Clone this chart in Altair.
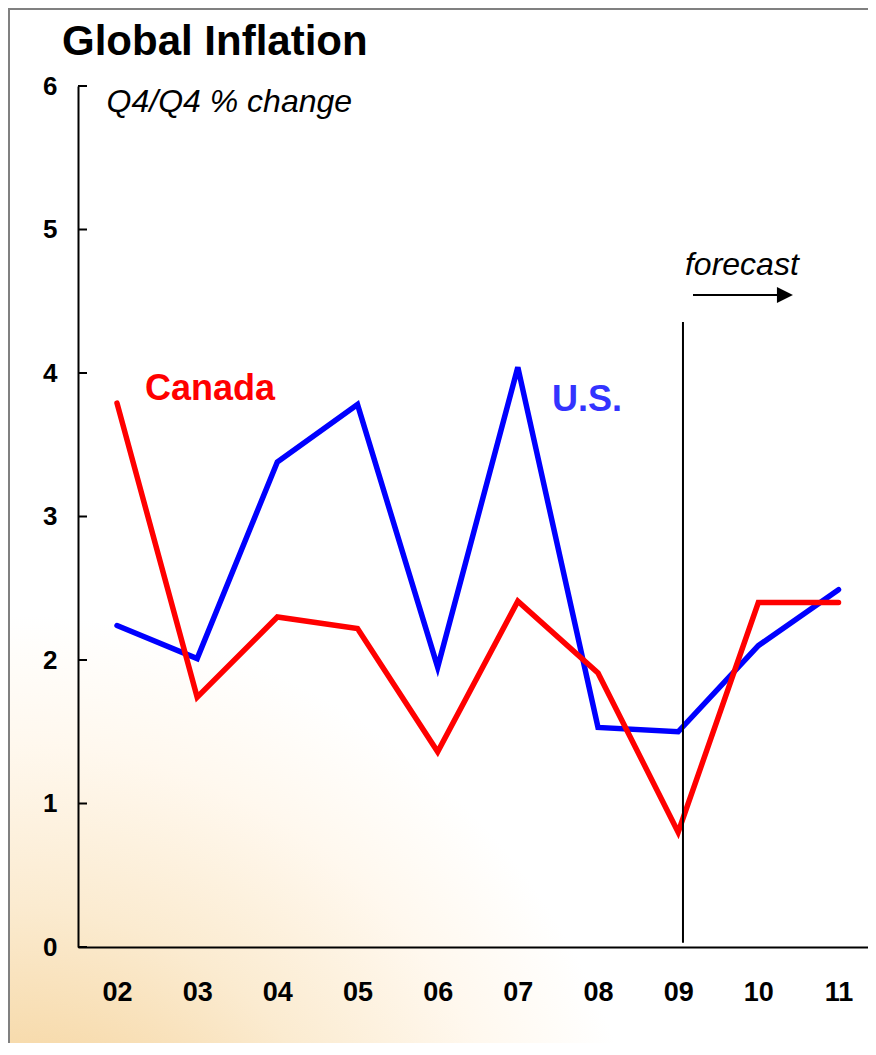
import altair as alt
import pandas as pd

# ---- data ----
years = [2, 3, 4, 5, 6, 7, 8, 9, 10, 11]
us = [2.24, 2.01, 3.38, 3.78, 1.95, 4.04, 1.53, 1.50, 2.10, 2.49]
canada = [3.79, 1.74, 2.30, 2.22, 1.36, 2.41, 1.91, 0.80, 2.40, 2.40]
series_names = ["U.S.", "Canada"]
series_colors = ["#0000FF", "#FF0000"]
y_ticks = [0, 1, 2, 3, 4, 5, 6]

FONT = "Liberation Sans"
W, H = 790, 861

df = pd.DataFrame({
    "year": years * 2,
    "value": us + canada,
    "series": ["U.S."] * len(years) + ["Canada"] * len(years),
})

x_scale = alt.Scale(domain=[1.5135, 11.368], nice=False, zero=False)
y_scale = alt.Scale(domain=[0, 6], nice=False, zero=True)


def one(**kw):
    return alt.Data(values=[kw])


# background glow (bottom-left)
bg = alt.Chart(one(a=1)).mark_rect(
    fill={
        "gradient": "radial",
        "x1": 0, "y1": 1, "x2": 0, "y2": 1, "r1": 0, "r2": 0.75,
        "stops": [
            {"offset": 0, "color": "#EFC07A"},
            {"offset": 0.28, "color": "#F6D7A4"},
            {"offset": 0.55, "color": "#FBEBD0"},
            {"offset": 0.8, "color": "#FFF8EE"},
            {"offset": 1, "color": "#FFFFFF"},
        ],
    },
    strokeWidth=0,
).encode(x=alt.value(-70), x2=alt.value(W), y=alt.value(H - 330), y2=alt.value(H + 96))

# slide frame
frame_left = alt.Chart(one(a=1)).mark_rule(color="#808080", strokeWidth=2).encode(
    x=alt.value(-69), y=alt.value(-78), y2=alt.value(H + 96))
frame_top = alt.Chart(one(a=1)).mark_rule(color="#808080", strokeWidth=2).encode(
    x=alt.value(-70), x2=alt.value(W), y=alt.value(-77))

# inward y ticks
ticks = alt.Chart(pd.DataFrame({"value": y_ticks})).mark_rule(color="black", strokeWidth=2).encode(
    y=alt.Y("value:Q", scale=y_scale), x=alt.value(0), x2=alt.value(9))

# forecast divider
divider = alt.Chart(one(year=9.06, value=4.355, value2=0.03)).mark_rule(color="black", strokeWidth=2).encode(
    x=alt.X("year:Q", scale=x_scale),
    y=alt.Y("value:Q", scale=y_scale),
    y2="value2:Q",
)

lines = alt.Chart(df).mark_line(strokeWidth=5.5, strokeCap="round", strokeJoin="miter").encode(
    x=alt.X("year:Q", scale=x_scale, axis=alt.Axis(
        values=years,
        labelExpr="datum.value < 10 ? '0' + datum.value : '' + datum.value",
        ticks=False, tickSize=0, grid=False, domainColor="black", domainWidth=2,
        labelFont=FONT, labelFontSize=27, labelFontWeight="bold", labelColor="black",
        labelPadding=53, labelBaseline="alphabetic", labelFlush=False, labelOverlap=False,
        title=None, zindex=1)),
    y=alt.Y("value:Q", scale=y_scale, axis=alt.Axis(
        values=y_ticks, format="d", ticks=False, tickSize=0, grid=False,
        domainColor="black", domainWidth=2,
        labelFont=FONT, labelFontSize=26, labelFontWeight="bold", labelColor="black",
        labelPadding=21, labelFlush=False, title=None, zindex=1)),
    color=alt.Color("series:N", scale=alt.Scale(domain=series_names, range=series_colors), legend=None),
)


def label(text, x, y, size, color="black", weight="normal", style="normal"):
    return alt.Chart(one(year=x, value=y, t=text)).mark_text(
        align="left", baseline="alphabetic", font=FONT, fontSize=size,
        fontWeight=weight, fontStyle=style, color=color,
    ).encode(
        x=alt.X("year:Q", scale=x_scale),
        y=alt.Y("value:Q", scale=y_scale),
        text="t:N",
    )


canada_lbl = label("Canada", 2.349, 3.812, 36, "#FF0000", "bold")
us_lbl = label("U.S.", 7.426, 3.735, 36, "#3333FF", "bold")
sub_lbl = label("Q4/Q4 % change", 1.87, 5.819, 32, "black", "normal", "italic")
fc_lbl = label("forecast", 9.085, 4.683, 32, "black", "normal", "italic")

arrow_shaft = alt.Chart(one(year=9.185, year2=10.27, value=4.544)).mark_rule(color="black", strokeWidth=2).encode(
    x=alt.X("year:Q", scale=x_scale), x2="year2:Q",
    y=alt.Y("value:Q", scale=y_scale))
arrow_head = alt.Chart(one(year=10.332, value=4.544)).mark_point(
    shape="M-1,-1L1,0L-1,1Z", size=256, filled=True, color="black", opacity=1, strokeWidth=0,
).encode(x=alt.X("year:Q", scale=x_scale), y=alt.Y("value:Q", scale=y_scale))

title = alt.Chart(one(t="Global Inflation")).mark_text(
    align="left", baseline="alphabetic", font=FONT, fontSize=42, fontWeight="bold", color="black",
).encode(x=alt.value(-16), y=alt.value(-31), text="t:N")

chart = alt.layer(
    bg, frame_left, frame_top, lines, ticks, divider,
    canada_lbl, us_lbl, sub_lbl, fc_lbl, arrow_shaft, arrow_head, title,
).properties(
    width=W, height=H,
    padding={"left": 70, "top": 78, "right": 0, "bottom": 96},
    autosize=alt.AutoSizeParams(type="none"),
    background="white",
).configure_view(stroke=None)

chart.save("out.html", embed_options={"renderer": "svg", "actions": False})
